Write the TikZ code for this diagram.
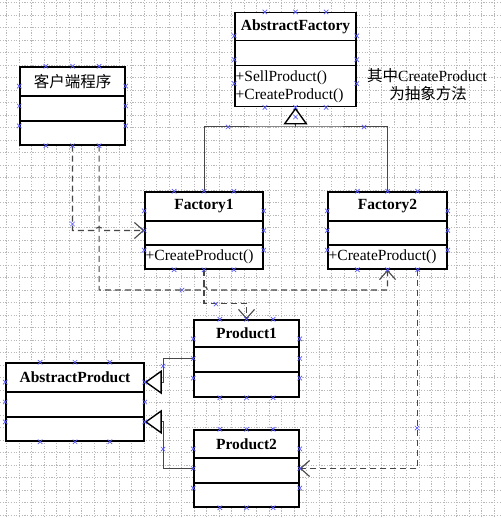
\documentclass[tikz,border=0pt]{standalone}
\usepackage{fontspec}
\setmainfont{Liberation Serif}
\newfontfamily\cjk{Noto Sans CJK SC}
\usetikzlibrary{arrows.meta,calc,fit}
\tikzset{
  grid line/.style={draw=black!28, line width=0.5pt, dash pattern=on 1.2pt off 1.5pt},
  cls/.style={draw=black, line width=1.5pt, fill=white, inner sep=0pt},
  divl/.style={draw=black, line width=1.5pt},
  ttl/.style={font=\fontsize{15.5}{18}\selectfont\bfseries, inner sep=0pt},
  mth/.style={font=\fontsize{15.5}{18}\selectfont, inner sep=0pt, anchor=west},
  note/.style={font=\fontsize{15.5}{18}\selectfont, inner sep=0pt},
  gen/.style={draw=black!72, line width=1pt},
  genhead/.style={-{Triangle[length=17pt,width=24pt,line width=1.4pt,color=black,fill=white]}},
  dep/.style={draw=black!72, line width=1.1pt, dash pattern=on 6pt off 4pt, -{Straight Barb[length=9pt,width=16pt]}},
  xm/.pic={\draw[draw=blue!65, line width=0.7pt] (-2.2pt,-2.2pt)--(2.2pt,2.2pt) (-2.2pt,2.2pt)--(2.2pt,-2.2pt);}
}
\newcommand\umlbox[8]{%
  \node[cls, fit={(#2,#3) (#4,#5)}] (#1) {};
  \draw[divl] (#2,#6) -- (#4,#6);
  \draw[divl] (#2,#7) -- (#4,#7);
  \node[ttl] (#1-title) at ({(#2+#4)/2},{(#3+#6)/2}) {#8};
}
\newcommand\boxmarks[1]{%
  \foreach \f in {0.25,0.5,0.75}{%
    \pic at ($(#1.north west)!\f!(#1.north east)$) {xm};
    \pic at ($(#1.south west)!\f!(#1.south east)$) {xm};
    \pic at ($(#1.north west)!\f!(#1.south west)$) {xm};
    \pic at ($(#1.north east)!\f!(#1.south east)$) {xm};
  }%
}
\begin{document}
\begin{tikzpicture}[x=1pt,y=-1pt]
\useasboundingbox (0,0) rectangle (500,518);
\fill[white] (0,0) rectangle (500,518);
% grid
\foreach \i in {0,...,39} \draw[grid line] ({6.7+12.5*\i},0) -- ({6.7+12.5*\i},518);
\foreach \i in {0,...,41} \draw[grid line] (0,{2.5+12.5*\i}) -- (500,{2.5+12.5*\i});

% classes
\umlbox{af}{235}{12.7}{356}{106.7}{40.7}{65.7}{AbstractFactory}
\node[mth] (af-m1) at (235.5,78) {+SellProduct()};
\node[mth] (af-m2) at (235.5,96) {+CreateProduct()};

\umlbox{cl}{20}{67}{125}{145}{96}{121}{\mdseries\cjk 客户端程序}

\umlbox{fa1}{145}{192}{263}{269}{221}{245}{Factory1}
\node[mth] (fa1-m1) at (145.5,257) {+CreateProduct()};

\umlbox{fa2}{328}{192}{447}{269}{221}{245}{Factory2}
\node[mth] (fa2-m1) at (328.5,257) {+CreateProduct()};

\umlbox{p1}{194}{320}{299}{397}{347}{372}{Product1}
\umlbox{p2}{194}{430}{299}{507}{458}{483}{Product2}

\umlbox{ap}{6}{363}{144}{441}{392}{417}{AbstractProduct}
\draw[divl, line width=2.3pt] (6,392) -- (144,392);

% note
\node[note] (n1) at (427,76) {{\cjk 其中}CreateProduct};
\node[note] (n2) at (428,94) {\cjk 为抽象方法};

% helper coordinates
\coordinate (jy) at (0,127);
\coordinate (y290) at (0,290);
\coordinate (j) at (af.south |- jy);
\coordinate (c13) at ($(cl.south west)!0.75!(cl.south east)$);
\coordinate (f23) at ($(fa2.south west)!0.75!(fa2.south east)$);
\coordinate (a1) at ($(ap.north east)!0.25!(ap.south east)$);
\coordinate (a3) at ($(ap.north east)!0.75!(ap.south east)$);

% generalization Factory -> AbstractFactory
\draw[gen] (fa1.north) |- (j) -| (fa2.north);
\draw[gen, genhead] (j) -- (af.south);

% generalization Product -> AbstractProduct
\draw[gen, genhead] (p1.west) -| ($(a1)+(19,0)$) -- (a1);
\draw[gen, genhead] (p2.west) -| ($(a3)+(19,0)$) -- (a3);

% dependencies
\draw[dep] (cl.south) |- ($(c13 |- fa1.west)+(-3.5,0)$) arc[start angle=180,end angle=0,radius=3.5pt] -- (fa1.west);
\draw[dep] (c13) |- ($(fa1.south |- y290)+(-3.5,0)$) arc[start angle=180,end angle=0,radius=3.5pt] -| (fa2.south);
\draw[dep] (fa1.south) |- ($(p1.north)+(0,-16)$) -- (p1.north);
\draw[dep] (f23) |- (p2.east);

% connection point markers
\boxmarks{af}
\boxmarks{cl}
\boxmarks{fa1}
\boxmarks{fa2}
\boxmarks{p1}
\boxmarks{p2}
\boxmarks{ap}
\foreach \p in {(72.5,224),(182,290),(216,304),(163,366),(163,449),(417,428),(228,127),(364,127),(295.5,117)}
  \pic at \p {xm};
\end{tikzpicture}
\end{document}
